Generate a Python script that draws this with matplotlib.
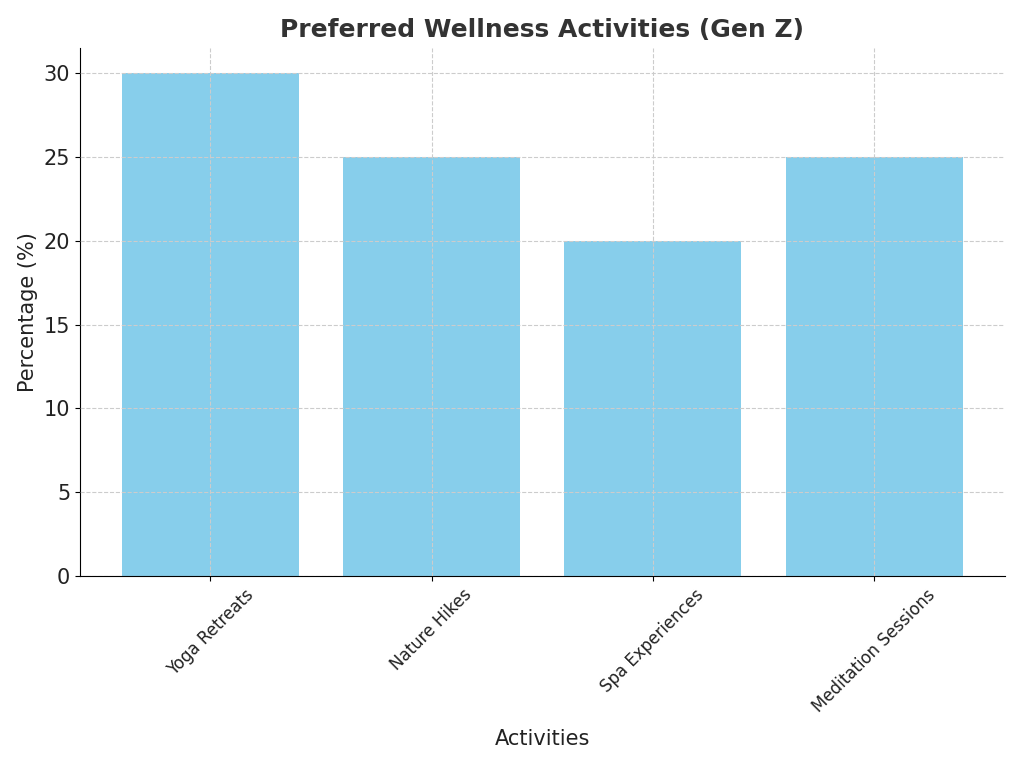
import matplotlib
matplotlib.use("Agg")
import matplotlib.pyplot as plt

categories = ["Yoga Retreats", "Nature Hikes", "Spa Experiences", "Meditation Sessions"]
percentages = [30, 25, 20, 25]

fig = plt.figure(figsize=(10.24, 7.68), dpi=100)
ax = fig.add_axes([0.078, 0.25, 0.903, 0.6875])
ax.bar(categories, percentages, color="skyblue", width=0.8)
ax.set_title("Preferred Wellness Activities (Gen Z)", fontsize=18, fontweight="bold", color="#333333", pad=8)
ax.set_xlabel("Activities", fontsize=15, color="#222222", labelpad=10)
ax.set_ylabel("Percentage (%)", fontsize=15, color="#222222")
ax.tick_params(axis="y", labelsize=15, labelcolor="#222222")
ax.tick_params(axis="x", labelsize=12, labelcolor="#222222")
plt.setp(ax.get_xticklabels(), rotation=45)
ax.grid(True, linestyle="--", color="#cccccc", linewidth=0.8)
ax.set_axisbelow(False)
ax.spines["top"].set_visible(False)
ax.spines["right"].set_visible(False)
fig.savefig("out.png", dpi=100)
